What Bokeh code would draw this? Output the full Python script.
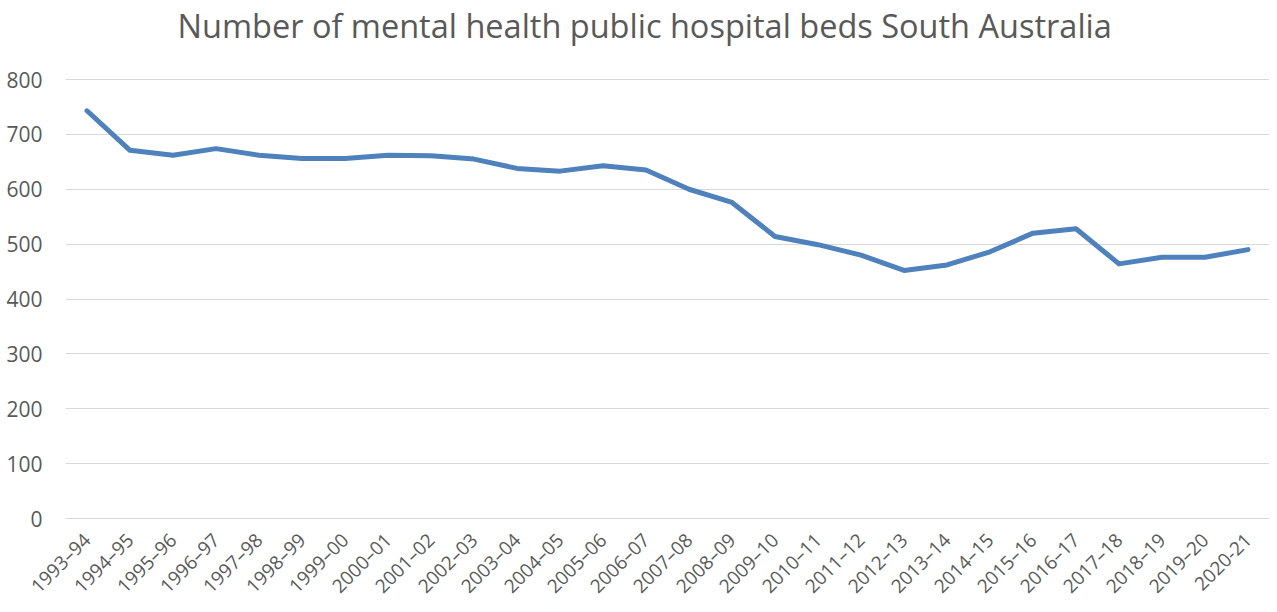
import math
from bokeh.plotting import figure
from bokeh.models import FactorRange, Range1d, FixedTicker, Label
from bokeh.embed import file_html
from bokeh.resources import INLINE

years = ["1993–94", "1994–95", "1995–96", "1996–97", "1997–98", "1998–99", "1999–00",
         "2000–01", "2001–02", "2002–03", "2003–04", "2004–05", "2005–06", "2006–07",
         "2007–08", "2008–09", "2009–10", "2010–11", "2011–12", "2012–13", "2013–14",
         "2014–15", "2015–16", "2016–17", "2017–18", "2018–19", "2019–20", "2020-21"]
beds = [743, 671, 662, 674, 662, 656, 656, 662, 661, 655, 638, 633, 643, 635,
        600, 576, 514, 499, 480, 452, 462, 486, 520, 528, 464, 476, 476, 490]
y_ticks = [0, 100, 200, 300, 400, 500, 600, 700, 800]
title_text = "Number of mental health public hospital beds South Australia"

TEXT = "#595959"
GRID = "#d9d9d9"
FONT = "Open Sans"

# frame spans the whole top area; the range above 800 holds the title
FRAME_H = 518
Y_TOP = 800 * FRAME_H / (FRAME_H - 79)

p = figure(x_range=FactorRange(factors=years, range_padding=0),
           y_range=Range1d(0, Y_TOP),
           width=1269, height=610, output_backend="svg", toolbar_location=None,
           min_border_left=65, min_border_right=0, min_border_top=0, min_border_bottom=92)

title = Label(x=13.47, y=Y_TOP * (FRAME_H - 25) / FRAME_H, text=title_text,
              text_align="center", text_baseline="middle", text_font=FONT,
              text_font_size="32.5px", text_color=TEXT)
p.add_layout(title)

p.outline_line_color = None
p.xgrid.grid_line_color = None
p.ygrid.grid_line_color = GRID
p.ygrid.grid_line_width = 1

p.yaxis.ticker = FixedTicker(ticks=y_ticks)
p.yaxis.axis_line_color = None
p.yaxis.major_tick_line_color = None
p.yaxis.minor_tick_line_color = None
p.yaxis.major_label_text_font = FONT
p.yaxis.major_label_text_font_size = "21px"
p.yaxis.major_label_text_color = TEXT
p.yaxis.major_label_standoff = 17

p.xaxis.axis_line_color = GRID
p.xaxis.major_tick_line_color = None
p.xaxis.minor_tick_line_color = None
p.xaxis.major_label_orientation = math.pi / 4
p.xaxis.major_label_text_font = FONT
p.xaxis.major_label_text_font_size = "19px"
p.xaxis.major_label_text_color = TEXT
p.xaxis.major_label_standoff = 12

p.line(years, beds, line_width=5, line_color="#4F81BD", line_join="round", line_cap="round")

open("out.html", "w").write(file_html(p, INLINE))
